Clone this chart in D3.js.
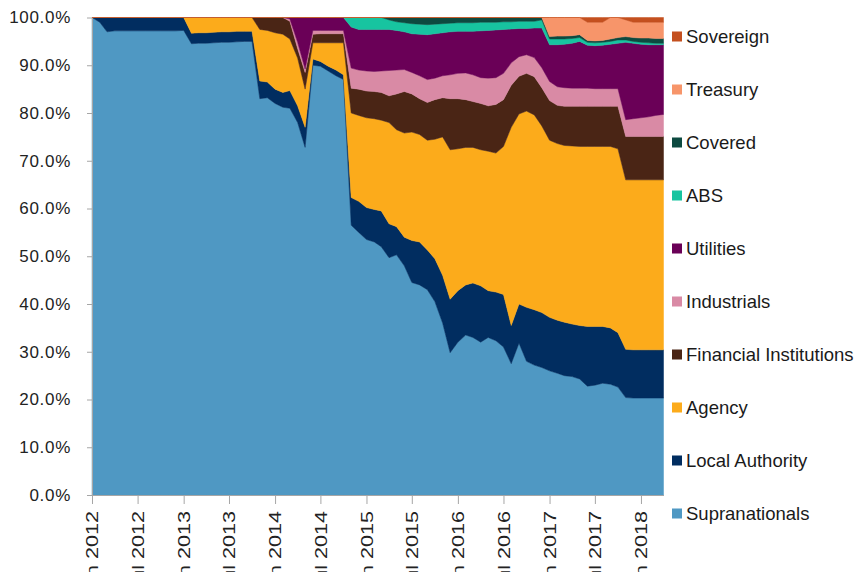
<!DOCTYPE html>
<html>
<head>
<meta charset="utf-8">
<script src="https://cdn.jsdelivr.net/npm/d3@7"></script>
<style>
  html, body { margin: 0; padding: 0; background: #fff; }
  svg { display: block; font-family: "Liberation Sans", Arial, sans-serif; }
</style>
</head>
<body>
<svg id="chart" width="857" height="572"></svg>
<script>
// series, bottom of the stack first
const seriesNames = ["Supranationals", "Local Authority", "Agency", "Financial Institutions",
  "Industrials", "Utilities", "ABS", "Covered", "Treasury", "Sovereign"];
const seriesColors = ["#4f98c3", "#012d60", "#fcab1b", "#4a2515",
  "#d98aa5", "#6a0057", "#17c4a0", "#0d4a40", "#f7956a", "#c4501f"];

// monthly shares (%), Jan 2012 .. Apr 2018
const supranationals = [
  100, 99, 97, 97.2, 97.2, 97.2, 97.2, 97.2, 97.2, 97.2, 97.2, 97.2, 97.3,
  94.5, 94.6, 94.6, 94.7, 94.8, 94.8, 94.9, 95, 95,
  83, 83.2, 82, 81.2, 81, 78, 72.8,
  90, 89.8, 88.8, 87.8, 87,
  56.5, 55, 53.5, 53, 52, 49.7, 50.3, 48, 44.5, 44, 43, 40.5, 36, 29.8,
  32, 33.5, 33, 32, 33, 32.3, 31, 27.5, 31.8, 28, 27.2,
  26.7, 26, 25.5, 25, 24.8, 24.3, 22.8, 23, 23.4, 23.2, 22.6,
  20.4, 20.3, 20.3, 20.3, 20.3, 20.3
];
const localAuthority = [
  0, 1, 3, 2.8, 2.8, 2.8, 2.8, 2.8, 2.8, 2.8, 2.8, 2.8, 2.7,
  2.2, 2.2, 2.2, 2.2, 2.2, 2.2, 2.2, 2.1, 2.1,
  3.7, 3.3, 3.0, 3.1, 3.7, 3.5, 4.2,
  1.3, 1.0, 1.0, 1.2, 1.0,
  5.8, 6.5, 6.7, 6.8, 7.5, 7.1, 5.9, 6, 8.8, 9, 8.3, 9, 10, 11.2,
  10.8, 10.5, 11.4, 11.8, 9.8, 10.2, 11, 8, 8.2, 11.3, 11.6,
  11.5, 11.2, 11.1, 11.2, 11.0, 11.2, 12.5, 12.3, 11.9, 11.8, 11.4,
  10.1, 10.1, 10.1, 10.1, 10.1, 10.1
];
const agency = [
  0, 0, 0, 0, 0, 0, 0, 0, 0, 0, 0, 0, 0,
  3.3, 3.2, 3.2, 3.1, 3.0, 3.0, 2.9, 2.9, 2.9,
  10.8, 10.8, 11.8, 12.2, 10.8, 10, 8,
  3.4, 3.9, 4.9, 5.7, 6.7,
  17.7, 18, 18.8, 19, 19, 21.2, 20.3, 21.8, 22.7, 22.5, 23, 25, 29, 31.3,
  29.7, 28.8, 28.4, 28.5, 29.2, 29.1, 31, 41.5, 39.8, 41.1, 40.8,
  39.1, 37.1, 37.0, 37.0, 37.3, 37.5, 37.7, 37.7, 37.7, 38, 38.5,
  35.5, 35.6, 35.6, 35.6, 35.6, 35.6
];
const financialInstitutions = [
  0, 0, 0, 0, 0, 0, 0, 0, 0, 0, 0, 0, 0,
  0, 0, 0, 0, 0, 0, 0, 0, 0,
  2.5, 2.7, 3.2, 3.5, 3.7, 2, 3.5,
  1.8, 1.9, 1.9, 1.9, 1.9,
  5.2, 5.5, 5.6, 5.7, 5.8, 5.6, 7.5, 8.7, 8, 7.5, 7.9, 8.3, 8.2, 10.7,
  10.5, 10, 9.6, 9.7, 9.5, 10.2, 9.8, 8.8, 7.9, 7.9, 8,
  8.0, 8.3, 8.0, 8.2, 8.3, 8.4, 8.4, 8.4, 8.4, 8.4, 8.9,
  9.1, 9.1, 9.1, 9.1, 9.1, 9.1
];
const industrials = [
  0, 0, 0, 0, 0, 0, 0, 0, 0, 0, 0, 0, 0,
  0, 0, 0, 0, 0, 0, 0, 0, 0,
  0, 0, 0, 0, 0.5, 1.3, 0.7,
  0.8, 0.7, 0.7, 0.7, 0.7,
  4.2, 4, 4.2, 4.2, 4.5, 5.3, 5.0, 4.6, 4.5, 4.8, 4.8, 4.5, 4.6, 5,
  5.3, 5.6, 5.6, 5.4, 5.8, 5.6, 5.5, 4.7, 4.1, 3.9, 4,
  4.2, 4.0, 3.9, 3.9, 3.8, 3.8, 3.8, 3.7, 3.7, 3.7, 3.7,
  3.5, 3.7, 3.9, 4.1, 4.4, 4.6
];
const utilities = [
  0, 0, 0, 0, 0, 0, 0, 0, 0, 0, 0, 0, 0,
  0, 0, 0, 0, 0, 0, 0, 0, 0,
  0, 0, 0, 0, 0.3, 5.2, 10.8,
  2.7, 2.7, 2.7, 2.7, 2.7,
  8.6, 8.5, 8.7, 8.8, 8.7, 8.6, 8.3, 7.9, 8.1, 8.7, 9.4, 9.3, 9, 9,
  8.8, 8.7, 9.1, 9.8, 10, 10, 9.2, 7.1, 5.9, 5.5, 6.2,
  8.3, 7.7, 8.8, 9.1, 9.4, 9.8, 9.0, 9.0, 9.1, 9.3, 9.5,
  16.2, 15.8, 15.4, 15.1, 14.8, 14.6
];
const abs = [
  0, 0, 0, 0, 0, 0, 0, 0, 0, 0, 0, 0, 0,
  0, 0, 0, 0, 0, 0, 0, 0, 0,
  0, 0, 0, 0, 0, 0, 0,
  0, 0, 0, 0, 0,
  2.0, 2.5, 2.5, 2.5, 2.5, 2.0, 1.8, 1.9, 2.1, 2.1, 2.1, 2.0, 1.9, 1.8,
  1.8, 1.8, 1.8, 1.8, 1.7, 1.6, 1.6, 1.5, 1.5, 1.5, 1.4,
  1.7, 1.2, 1.2, 1.1, 1.0, 0.8, 0.6, 0.6, 0.6, 0.6, 0.7,
  0.5, 0.4, 0.4, 0.4, 0.3, 0.3
];
const covered = [
  0, 0, 0, 0, 0, 0, 0, 0, 0, 0, 0, 0, 0,
  0, 0, 0, 0, 0, 0, 0, 0, 0,
  0, 0, 0, 0, 0, 0, 0,
  0, 0, 0, 0, 0,
  0, 0, 0, 0, 0, 0.5, 0.9, 1.1, 1.3, 1.4, 1.5, 1.4, 1.3, 1.2,
  1.1, 1.1, 1.1, 1.0, 1.0, 1.0, 0.9, 0.9, 0.8, 0.8, 0.8,
  0.5, 0.5, 0.6, 0.6, 0.6, 0.6, 0.4, 0.4, 0.4, 0.5, 0.5,
  0.7, 0.8, 0.9, 1.0, 1.0, 1.0
];
const treasury = [
  0, 0, 0, 0, 0, 0, 0, 0, 0, 0, 0, 0, 0,
  0, 0, 0, 0, 0, 0, 0, 0, 0,
  0, 0, 0, 0, 0, 0, 0,
  0, 0, 0, 0, 0,
  0, 0, 0, 0, 0, 0, 0, 0, 0, 0, 0, 0, 0, 0,
  0, 0, 0, 0, 0, 0, 0, 0, 0, 0, 0,
  0, 4.0, 3.9, 3.9, 3.8, 3.6, 3.8, 3.9, 3.8, 4.5, 4.2,
  3.5, 3.2, 3.3, 3.3, 3.4, 3.4
];
const sovereign = [
  0, 0, 0, 0, 0, 0, 0, 0, 0, 0, 0, 0, 0,
  0, 0, 0, 0, 0, 0, 0, 0, 0,
  0, 0, 0, 0, 0, 0, 0,
  0, 0, 0, 0, 0,
  0, 0, 0, 0, 0, 0, 0, 0, 0, 0, 0, 0, 0, 0,
  0, 0, 0, 0, 0, 0, 0, 0, 0, 0, 0,
  0, 0, 0, 0, 0, 0, 1.0, 1.0, 1.0, 0, 0,
  0.5, 1.0, 1.0, 1.0, 1.0, 1.0
];
const yTicks = [0, 0.1, 0.2, 0.3, 0.4, 0.5, 0.6, 0.7, 0.8, 0.9, 1];

const seriesValues = [supranationals, localAuthority, agency, financialInstitutions,
  industrials, utilities, abs, covered, treasury, sovereign];
const months = d3.timeMonth.range(new Date(2012, 0, 1), new Date(2018, 4, 1));

const rows = months.map((date, i) => {
  const row = { date };
  seriesNames.forEach((name, k) => { row[name] = seriesValues[k][i]; });
  return row;
});

const stacked = d3.stack().keys(seriesNames).offset(d3.stackOffsetExpand)(rows);

const svg = d3.select("#chart");
const x = d3.scaleTime().domain([months[0], months[months.length - 1]]).range([92, 663.5]);
const y = d3.scaleLinear().domain([0, 1]).range([495, 17.5]);

const area = d3.area()
  .x(d => x(d.data.date))
  .y0(d => y(d[0]))
  .y1(d => y(d[1]));

svg.append("g")
  .selectAll("path")
  .data(stacked)
  .join("path")
  .attr("d", area)
  .attr("fill", (d, i) => seriesColors[i])
  .attr("stroke", (d, i) => seriesColors[i])
  .attr("stroke-width", 0.5);

// y axis
const yAxis = svg.append("g")
  .attr("transform", "translate(92,0)")
  .call(d3.axisLeft(y).tickValues(yTicks).tickFormat(d3.format(".1%"))
    .tickSize(5).tickSizeOuter(0).tickPadding(16));
yAxis.select(".domain").attr("stroke", "#a6a6a6");
yAxis.selectAll(".tick line").attr("stroke", "#a6a6a6");
yAxis.selectAll("text")
  .attr("font-family", "Liberation Sans, Arial, sans-serif")
  .attr("font-size", 17)
  .attr("letter-spacing", "0.7px")
  .attr("fill", "#222");

// x axis, labels turned to read upwards
const xAxis = svg.append("g")
  .attr("transform", "translate(0,495)")
  .call(d3.axisBottom(x).ticks(d3.timeMonth.every(6)).tickFormat(d3.timeFormat("%b %Y"))
    .tickSize(9).tickSizeOuter(0));
xAxis.select(".domain").attr("stroke", "#a6a6a6");
xAxis.selectAll(".tick line").attr("stroke", "#a6a6a6");
xAxis.selectAll("text")
  .attr("font-family", "Liberation Sans, Arial, sans-serif")
  .attr("font-size", 16)
  .attr("fill", "#222")
  .attr("text-anchor", "end")
  .attr("transform", "rotate(-90) scale(1.35,1)")
  .attr("x", -16 / 1.35)
  .attr("y", 0)
  .attr("dy", "0.35em");

// legend, top of the stack first
const legend = svg.append("g")
  .selectAll("g")
  .data(seriesNames.map((name, i) => ({ name, color: seriesColors[i] })).reverse())
  .join("g")
  .attr("transform", (d, i) => `translate(672,${36.5 + i * 53})`);

legend.append("rect")
  .attr("x", 0)
  .attr("y", -5)
  .attr("width", 10)
  .attr("height", 10)
  .attr("fill", d => d.color);

legend.append("text")
  .attr("x", 14)
  .attr("dy", "0.35em")
  .attr("font-size", 18.5)
  .attr("fill", "#1a1a1a")
  .text(d => d.name);
</script>
</body>
</html>
